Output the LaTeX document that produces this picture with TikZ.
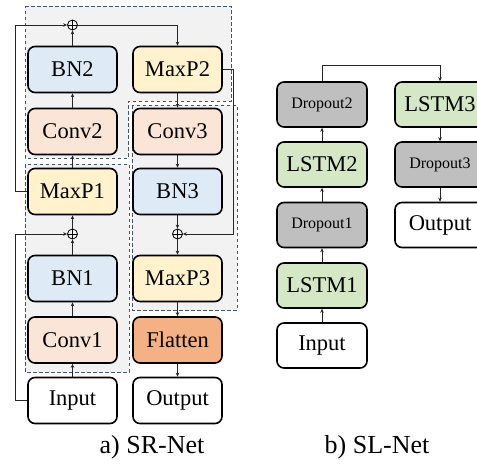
\documentclass[tikz,border=0pt]{standalone}
\usepackage{fontspec}
\setmainfont{Liberation Serif}
\usetikzlibrary{arrows.meta}
\definecolor{bnc}{HTML}{DEEBF7}
\definecolor{convc}{HTML}{FBE5D6}
\definecolor{maxc}{HTML}{FFF2CC}
\definecolor{flatc}{HTML}{F4B183}
\definecolor{lstmc}{HTML}{D5E8C5}
\definecolor{dropc}{HTML}{BFBFBF}
\definecolor{boxfill}{HTML}{F2F2F2}
\definecolor{boxline}{HTML}{44546A}
\begin{document}
\begin{tikzpicture}[x=1pt,y=-1pt,
  blk/.style={draw=black, line width=1.6pt, rounded corners=7pt, minimum width=89pt, minimum height=46pt, inner sep=0pt, font=\fontsize{22.5}{22.5}\selectfont},
  slblk/.style={blk, minimum width=90pt, minimum height=45pt},
  small/.style={font=\fontsize{16}{16}\selectfont},
  conn/.style={draw=black!85, line width=0.7pt, -{Stealth[length=4pt,width=3.5pt]}},
  dbox/.style={fill=boxfill, draw=boxline, dashed, dash pattern=on 3.5pt off 2.5pt, line width=0.8pt},
  opl/.style={circle, draw=black, line width=0.8pt, minimum size=10pt, inner sep=0pt,
    path picture={\draw[line width=0.8pt] (path picture bounding box.north) -- (path picture bounding box.south) (path picture bounding box.west) -- (path picture bounding box.east);}},
  captext/.style={anchor=base, font=\fontsize{26}{26}\selectfont}]
\useasboundingbox (0,0) rectangle (477,466);
% dashed blocks
\path[dbox] (25,6) -- (231,6) -- (231,101) -- (128,101) -- (128,158) -- (25,158) -- cycle;
\path[dbox] (25,164) rectangle (129,372);
\path[dbox] (132,105) rectangle (237,310);
% SR-Net nodes
\node[blk, fill=bnc] (bn2) at (72.5,69.5) {BN2};
\node[blk, fill=convc] (conv2) at (72.5,131.5) {Conv2};
\node[blk, fill=maxc] (maxp1) at (72.5,191.5) {MaxP1};
\node[blk, fill=bnc] (bn1) at (72.5,278.5) {BN1};
\node[blk, fill=convc] (conv1) at (72.5,340) {Conv1};
\node[blk, fill=white] (in1) at (72.5,400.5) {Input};
\node[blk, fill=maxc] (maxp2) at (177.5,69.5) {MaxP2};
\node[blk, fill=convc] (conv3) at (177.5,131.5) {Conv3};
\node[blk, fill=bnc] (bn3) at (177.5,191.5) {BN3};
\node[blk, fill=maxc] (maxp3) at (177.5,278.5) {MaxP3};
\node[blk, fill=flatc] (flat) at (177.5,340) {Flatten};
\node[blk, fill=white] (out1) at (177.5,400.5) {Output};
\node[opl] (op1) at (72.5,234) {};
\node[opl] (op2) at (72.5,25) {};
\node[opl] (op3) at (177.5,234) {};
% SR-Net connectors
\draw[conn] (in1) -- (conv1);
\draw[conn] (conv1) -- (bn1);
\draw[conn] (bn1) -- (op1);
\draw[conn] (op1) -- (maxp1);
\draw[conn] (maxp1) -- (conv2);
\draw[conn] (conv2) -- (bn2);
\draw[conn] (bn2) -- (op2);
\draw[conn] (op2.east) -| (maxp2.north);
\draw[conn] (maxp2) -- (conv3);
\draw[conn] (conv3) -- (bn3);
\draw[conn] (bn3) -- (op3);
\draw[conn] (op3) -- (maxp3);
\draw[conn] (maxp3) -- (flat);
\draw[conn] (flat) -- (out1);
\draw[conn] (in1.west) -- ++(-12,0) |- (op1.west);
\draw[conn] (maxp1.west) -- ++(-12,0) |- (op2.west);
\draw[conn] (maxp2.east) -- ++(11,0) |- (op3.east);
% SL-Net nodes
\node[slblk, fill=dropc, small] (do2) at (322,104.5) {Dropout2};
\node[slblk, fill=lstmc] (ls2) at (322,164.5) {LSTM2};
\node[slblk, fill=dropc, small] (do1) at (322,225) {Dropout1};
\node[slblk, fill=lstmc] (ls1) at (322,285.5) {LSTM1};
\node[slblk, fill=white] (in2) at (322,345.5) {Input};
\node[slblk, fill=lstmc] (ls3) at (440,104.5) {LSTM3};
\node[slblk, fill=dropc, small] (do3) at (440,164.5) {Dropout3};
\node[slblk, fill=white] (out2) at (440,225) {Output};
% SL-Net connectors
\draw[conn] (in2) -- (ls1);
\draw[conn] (ls1) -- (do1);
\draw[conn] (do1) -- (ls2);
\draw[conn] (ls2) -- (do2);
\draw[conn] (do2.north) -- ++(0,-16) -| (ls3.north);
\draw[conn] (ls3) -- (do3);
\draw[conn] (do3) -- (out2);
% captions
\node[captext] (capa) at (152,453) {a)\ SR-Net};
\node[captext] (capb) at (377,453) {b)\ SL-Net};
\end{tikzpicture}
\end{document}
